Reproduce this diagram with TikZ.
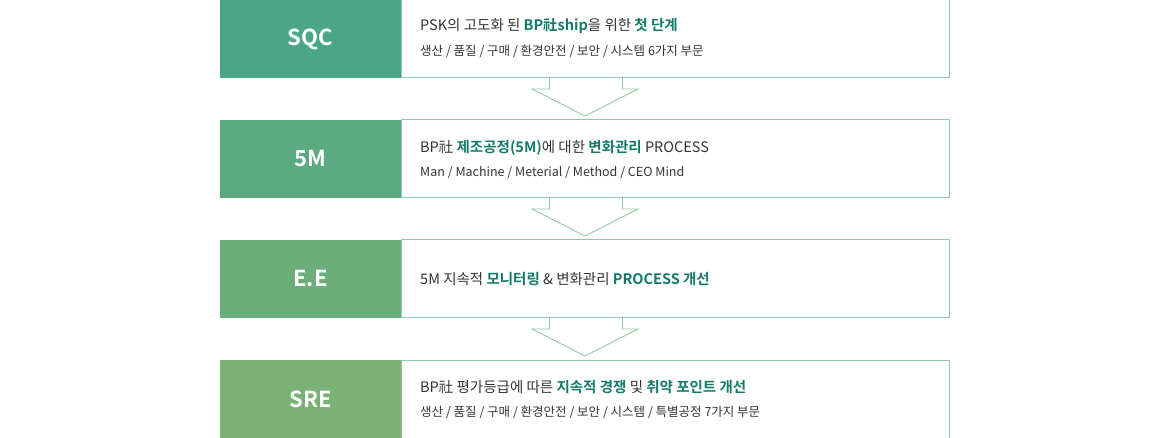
\documentclass[tikz,border=0pt]{standalone}
\usepackage{fontspec}
\setmainfont{Noto Sans CJK KR}
\newfontfamily\kb{Noto Sans CJK KR Bold}
\definecolor{c1}{HTML}{4BA688}
\definecolor{c2}{HTML}{5BAA80}
\definecolor{c3}{HTML}{6BAE79}
\definecolor{c4}{HTML}{7AB275}
\definecolor{bd}{HTML}{8FCBAA}
\definecolor{hl}{HTML}{137A6A}
\definecolor{tx}{HTML}{333333}
\begin{document}
\begin{tikzpicture}[x=1pt,y=-1pt,
  lbl/.style={font=\kb\fontsize{22}{26}\selectfont,text=white},
  main/.style={anchor=west,font=\fontsize{14.5}{17}\selectfont,text=tx,inner sep=0},
  sub/.style={anchor=west,font=\fontsize{12.5}{15}\selectfont,text=tx,inner sep=0}]
\useasboundingbox (0,0) rectangle (1170,438);
\newcommand\hh[1]{{\kb\color{hl}#1}}
\foreach \y/\c/\t [count=\i] in {0/c1/SQC,120/c2/5M,240/c3/E.E,360/c4/SRE}{
  \fill[\c] (220,\y) rectangle (401,\y+78);
  \node[lbl] (L\i) at (310.5,\y+39) {\t};
  \draw[bd,line width=1pt] (401,\y) rectangle (949,\y+78);
}
\foreach \y in {78,198,318}{
  \fill[white] (549.5,\y) rectangle (622.5,\y+1);
  \draw[bd,line width=0.9pt] (549.5,\y) -- (549.5,\y+11) -- (532,\y+11) -- (585,\y+38) -- (638,\y+11) -- (622.5,\y+11) -- (622.5,\y);
}
\node[main] (t1) at (420,26) {PSK의 고도화 된 \hh{BP社ship}을 위한 \hh{첫 단계}};
\node[sub] (s1) at (420,51) {생산 / 품질 / 구매 / 환경안전 / 보안 / 시스템 6가지 부문};
\node[main] (t2) at (420,148) {BP社 \hh{제조공정(5M)}에 대한 \hh{변화관리} PROCESS};
\node[sub] (s2) at (420,173) {Man / Machine / Meterial / Method / CEO Mind};
\node[main] (t3) at (420,279) {5M 지속적 \hh{모니터링} \& 변화관리 \hh{PROCESS 개선}};
\node[main] (t4) at (420,387) {BP社 평가등급에 따른 \hh{지속적 경쟁} 및 \hh{취약 포인트 개선}};
\node[sub] (s4) at (420,412) {생산 / 품질 / 구매 / 환경안전 / 보안 / 시스템 / 특별공정 7가지 부문};
\end{tikzpicture}
\end{document}
